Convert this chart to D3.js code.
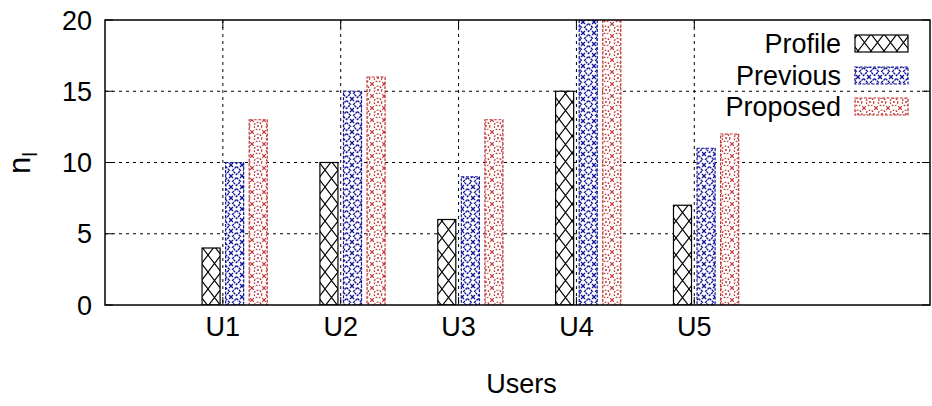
<!DOCTYPE html>
<html><head><meta charset="utf-8">
<script src="https://cdn.jsdelivr.net/npm/d3@7"></script>
<style>
html,body{margin:0;padding:0;background:#fff;}
svg text{font-family:"Liberation Sans",Arial,sans-serif;fill:#000;}
</style></head>
<body><svg id="c" width="932" height="406"></svg>
<script>
const categories = ["U1","U2","U3","U4","U5"];
const seriesNames = ["Profile","Previous","Proposed"];
const profile = [4,10,6,15,7];
const previous = [10,15,9,20,11];
const proposed = [13,16,13,20,12];
const yTicks = [0,5,10,15,20];

const series = [profile, previous, proposed];
const colors = ["#000000","#14149a","#bf3434"];
const patIds = ["pProfile","pPrevious","pProposed"];
const offsets = [-0.1, 0.1, 0.3];
const barW = 0.153;

const svg = d3.select("#c");
const m = {l:105, r:930, t:20, b:305};
const x = d3.scaleLinear().domain([0,7]).range([m.l, m.r]);
const y = d3.scaleLinear().domain([0,20]).range([m.b, m.t]);

const defs = svg.append("defs");
const p0 = defs.append("pattern").attr("id","pProfile").attr("patternUnits","userSpaceOnUse")
  .attr("width",13).attr("height",17);
p0.append("rect").attr("width",13).attr("height",17).attr("fill","#fff");
p0.append("path").attr("d","M0,0L13,17M13,0L0,17").attr("stroke","#000").attr("stroke-width",1.1).attr("fill","none");
const p1 = defs.append("pattern").attr("id","pPrevious").attr("patternUnits","userSpaceOnUse")
  .attr("width",11).attr("height",11);
p1.append("rect").attr("width",11).attr("height",11).attr("fill","#fff");
p1.append("path").attr("d","M5.5,1.5L9.5,5.5L5.5,9.5L1.5,5.5Z").attr("stroke",colors[1]).attr("stroke-width",1.3).attr("fill","none").attr("stroke-dasharray","2.5,0.8");
p1.append("path").attr("d","M0,0L2,2M11,0L9,2M0,11L2,9M11,11L9,9").attr("stroke",colors[1]).attr("stroke-width",1.3).attr("fill","none");
const p2 = defs.append("pattern").attr("id","pProposed").attr("patternUnits","userSpaceOnUse")
  .attr("width",12).attr("height",12);
p2.append("rect").attr("width",12).attr("height",12).attr("fill","#fff");
p2.append("circle").attr("cx",6).attr("cy",6).attr("r",3.8).attr("stroke",colors[2]).attr("stroke-width",1.2).attr("fill","none").attr("stroke-dasharray","1.8,1.4");
p2.append("circle").attr("cx",6).attr("cy",6).attr("r",1).attr("fill",colors[2]);
p2.append("path").attr("d","M0,0L1.8,1.8M12,0L10.2,1.8M0,12L1.8,10.2M12,12L10.2,10.2").attr("stroke",colors[2]).attr("stroke-width",1.2).attr("fill","none");

defs.append("clipPath").attr("id","clip").append("rect")
  .attr("x",m.l).attr("y",m.t).attr("width",m.r-m.l).attr("height",m.b-m.t);

const g = svg.append("g");
yTicks.filter(v=>v>0 && v<20).forEach(v=>{
  g.append("line").attr("x1",m.l).attr("x2",m.r).attr("y1",y(v)).attr("y2",y(v))
   .attr("stroke","#000").attr("stroke-width",1).attr("stroke-dasharray","3,4");
});
categories.forEach((c,i)=>{
  g.append("line").attr("x1",x(i+1)).attr("x2",x(i+1)).attr("y1",m.t).attr("y2",m.b)
   .attr("stroke","#000").attr("stroke-width",1).attr("stroke-dasharray","3,4");
});

const bars = svg.append("g").attr("clip-path","url(#clip)");
series.forEach((s,j)=>{
  bars.selectAll(null).data(s).enter().append("rect")
    .attr("x",(d,i)=>x(i+1+offsets[j]-barW/2))
    .attr("width",x(barW)-x(0))
    .attr("y",d=>y(d))
    .attr("height",d=>y(0)-y(d))
    .attr("fill","url(#"+patIds[j]+")")
    .attr("stroke",colors[j]).attr("stroke-width",1.2)
    .attr("stroke-dasharray", j===0?null:"3,1.5");
});

const tk = svg.append("g").attr("stroke","#000").attr("stroke-width",1);
yTicks.forEach(v=>{
  tk.append("line").attr("x1",m.l).attr("x2",m.l+8).attr("y1",y(v)).attr("y2",y(v));
  tk.append("line").attr("x1",m.r).attr("x2",m.r-8).attr("y1",y(v)).attr("y2",y(v));
});
categories.forEach((c,i)=>{
  tk.append("line").attr("x1",x(i+1)).attr("x2",x(i+1)).attr("y1",m.b).attr("y2",m.b-8);
  tk.append("line").attr("x1",x(i+1)).attr("x2",x(i+1)).attr("y1",m.t).attr("y2",m.t+8);
});

svg.append("rect").attr("x",m.l).attr("y",m.t).attr("width",m.r-m.l).attr("height",m.b-m.t)
  .attr("fill","none").attr("stroke","#000").attr("stroke-width",1.5);

const fs = 27;
yTicks.forEach(v=>{
  svg.append("text").attr("x",92).attr("y",y(v)).attr("dy","0.36em")
    .attr("text-anchor","end").attr("font-size",fs).text(v);
});
categories.forEach((c,i)=>{
  svg.append("text").attr("x",x(i+1)).attr("y",336)
    .attr("text-anchor","middle").attr("font-size",fs).text(c);
});

svg.append("text").attr("x",(m.l+m.r)/2+4).attr("y",393).attr("text-anchor","middle")
  .attr("font-size",fs).text("Users");
const yl = svg.append("text").attr("transform","translate(30,163) rotate(-90)")
  .attr("text-anchor","middle").attr("font-size",31);
yl.append("tspan").text("n");
yl.append("tspan").attr("font-size",21).attr("dy",7).text("l");

const legY = [43, 75, 106];
seriesNames.forEach((n,j)=>{
  svg.append("text").attr("x",841).attr("y",legY[j]).attr("dy","0.36em")
    .attr("text-anchor","end").attr("font-size",fs).text(n);
  svg.append("rect").attr("x",855).attr("y",legY[j]-8).attr("width",53).attr("height",17)
    .attr("fill","url(#"+patIds[j]+")").attr("stroke",colors[j]).attr("stroke-width",1.2)
    .attr("stroke-dasharray", j===0?null:"3,1.5");
});
</script></body></html>
